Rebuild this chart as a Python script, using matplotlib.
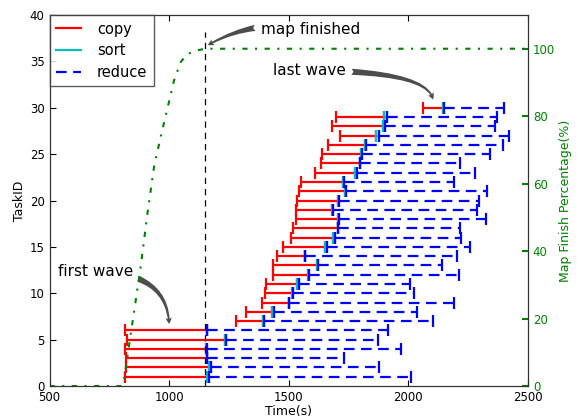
import matplotlib
matplotlib.use("Agg")
import matplotlib.pyplot as plt
import numpy as np

# ---- data ----
task_ids = list(range(1, 31))
copy_start = [815, 819, 819, 817, 822, 817, 1281, 1322, 1387, 1401, 1404, 1434, 1434, 1449, 1477,
              1509, 1518, 1532, 1532, 1535, 1542, 1552, 1608, 1633, 1637, 1666, 1716, 1679, 1699, 2060]
copy_end = [1157, 1165, 1157, 1156, 1232, 1157, 1392, 1431, 1500, 1514, 1535, 1580, 1619, 1567, 1652,
            1684, 1705, 1705, 1681, 1705, 1737, 1727, 1779, 1796, 1804, 1820, 1866, 1896, 1897, 2146]
sort_end = [1165, 1174, 1160, 1159, 1238, 1160, 1397, 1437, 1503, 1517, 1541, 1583, 1622, 1570, 1660,
            1692, 1708, 1709, 1684, 1710, 1740, 1730, 1787, 1799, 1807, 1823, 1876, 1902, 1911, 2149]
reduce_end = [2011, 1876, 1731, 1969, 1874, 1914, 2104, 2035, 2192, 2022, 2006, 2212, 2139, 2203, 2259,
              2220, 2217, 2324, 2287, 2295, 2329, 2193, 2277, 2215, 2343, 2394, 2419, 2361, 2370, 2400]

map_time = [500, 800, 810, 846, 881, 909, 937, 965, 992, 1020, 1048, 1073, 1100, 1122, 1150, 2500]
map_pct = [0, 0, 1.3, 18.5, 35.3, 51, 65, 74, 82, 90.5, 96, 98.2, 99.2, 99.6, 100, 100]
map_finish_time = 1150

plt.rcParams['font.family'] = ['DejaVu Sans']
fig = plt.figure(figsize=(5.84, 4.17), dpi=100)
ax = fig.add_axes([0.0848, 0.0743, 0.8192, 0.8897])

RED = '#ff0000'
CYAN = '#00bfbf'
BLUE = '#0000ff'
GREEN = '#008000'

lw = 1.6
ms = 9
for i, t in enumerate(task_ids):
    ax.plot([copy_start[i], copy_end[i]], [t, t], color=RED, lw=lw, marker='|', ms=ms, mew=lw,
            solid_capstyle='butt', zorder=3)
    ax.plot([copy_end[i], sort_end[i]], [t, t], color=CYAN, lw=lw, marker='|', ms=ms, mew=lw,
            solid_capstyle='butt', zorder=4)
    ax.plot([sort_end[i], reduce_end[i]], [t, t], color=BLUE, lw=lw, ls=(0, (4.8, 2.9)),
            marker='|', ms=ms, mew=lw, zorder=5)

ax.set_xlim(500, 2500)
ax.set_ylim(0, 40)
ax.set_xticks([500, 1000, 1500, 2000, 2500])
ax.set_yticks(range(0, 41, 5))
ax.tick_params(direction='in', length=4, labelsize=8.5, top=True, right=False, pad=3.5)
ax.set_xlabel('Time(s)', fontsize=9, labelpad=0.5)
ax.set_ylabel('TaskID', fontsize=9, labelpad=3)

ax2 = ax.twinx()
ax2.plot(map_time, map_pct, color=GREEN, lw=1.5, ls=(0, (2.5, 3.6, 1, 3.6)), zorder=2)
ax2.plot([map_finish_time, map_finish_time], [0, 105], color='k', lw=0.9, ls=(0, (5, 4)))
ax2.set_ylim(0, 110)
ax2.set_yticks([0, 20, 40, 60, 80, 100])
ax2.tick_params(direction='in', length=4, labelsize=8.5, colors=GREEN, width=1.5)
ax2.set_ylabel('Map Finish Percentage(%)', fontsize=9, color=GREEN, labelpad=3)
for s in ['left', 'right', 'top', 'bottom']:
    ax2.spines[s].set_color('#333333')

from matplotlib.lines import Line2D
handles = [Line2D([], [], color=RED, lw=lw), Line2D([], [], color=CYAN, lw=lw),
           Line2D([], [], color=BLUE, lw=lw, ls=(0, (4.8, 2.9)))]
leg = ax2.legend(handles, ['copy', 'sort', 'reduce'], loc='upper left', fontsize=10.5,
                 frameon=True, fancybox=False, borderaxespad=0, handlelength=1.7,
                 handletextpad=1.1, labelspacing=0.45, borderpad=0.45)
leg.get_frame().set_edgecolor('#333333')
leg.get_frame().set_linewidth(1)

arrow = dict(arrowstyle='fancy', fc='0.3', ec='none')
ax.annotate('map finished', xy=(1152, 36.6), xytext=(1382, 38.4), fontsize=11, ha='left', va='center',
            arrowprops=dict(arrow, connectionstyle='arc3,rad=0.2'))
ax.annotate('last wave', xy=(2104, 30.6), xytext=(1435, 34.0), fontsize=11, ha='left', va='center',
            arrowprops=dict(arrow, connectionstyle='angle3,angleA=0,angleB=-90'))
ax.annotate('first wave', xy=(1000, 6.4), xytext=(534, 12.3), fontsize=11, ha='left', va='center',
            arrowprops=dict(arrow, connectionstyle='angle3,angleA=0,angleB=-90'))

fig.savefig('out.png', dpi=100)
